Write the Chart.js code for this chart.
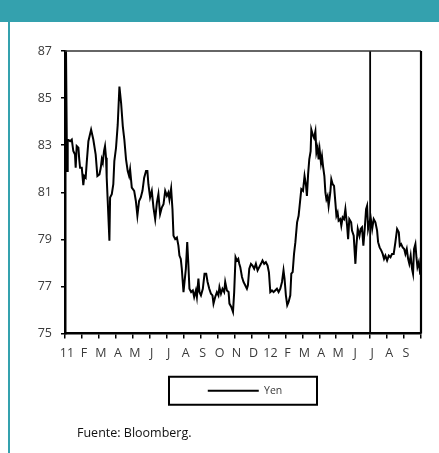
<!DOCTYPE html>
<html>
<head>
<meta charset="utf-8">
<script src="https://cdn.jsdelivr.net/npm/chart.js@4.4.0/dist/chart.umd.min.js"></script>
<style>
  html, body { margin: 0; padding: 0; background: #fff; }
  body { width: 439px; height: 453px; position: relative; overflow: hidden; }
  #band { position: absolute; left: 0; top: 0; width: 439px; height: 22px; background: #34a1ae; }
  #rule { position: absolute; left: 8px; top: 22px; width: 2px; height: 431px; background: #34a1ae; }
  #wrap { position: absolute; left: 0; top: 0; width: 439px; height: 453px; }
  #source { position: absolute; left: 77px; top: 424px; font-family: "Open Sans", sans-serif; font-size: 12.5px; color: #111; }
</style>
</head>
<body>
<div id="band"></div>
<div id="rule"></div>
<div id="wrap"><canvas id="c" width="439" height="453"></canvas></div>
<div id="source">Fuente: Bloomberg.</div>
<script>
// Month position: 0 = start of Jan 2011, 12 = start of Jan 2012
const monthPos = [
  0.00, 0.06, 0.12, 0.16, 0.30, 0.40, 0.49, 0.59, 0.63, 0.69, 0.79, 0.84, 0.89, 0.99,
  1.08, 1.14, 1.22, 1.28, 1.38, 1.54, 1.67, 1.81, 1.91, 2.03, 2.11, 2.17, 2.23, 2.30,
  2.36, 2.42, 2.46, 2.52, 2.62, 2.66, 2.76, 2.85, 2.91, 3.01, 3.11, 3.21, 3.31, 3.41,
  3.50, 3.60, 3.70, 3.78, 3.84, 3.94, 4.08, 4.18, 4.27, 4.37, 4.47, 4.57, 4.67, 4.78,
  4.86, 4.92, 5.02, 5.12, 5.22, 5.32, 5.42, 5.51, 5.61, 5.71, 5.81, 5.91, 6.01, 6.10,
  6.16, 6.26, 6.34, 6.40, 6.50, 6.60, 6.69, 6.75, 6.83, 6.89, 6.99, 7.05, 7.13, 7.21,
  7.28, 7.34, 7.44, 7.54, 7.62, 7.72, 7.78, 7.87, 7.93, 8.02, 8.13, 8.23, 8.33, 8.41,
  8.51, 8.61, 8.70, 8.76, 8.86, 8.96, 9.05, 9.11, 9.20, 9.29, 9.39, 9.45, 9.55, 9.65,
  9.70, 9.81, 9.91, 9.98, 10.06, 10.14, 10.22, 10.28, 10.34, 10.44, 10.53, 10.63, 10.73,
  10.79, 10.87, 10.97, 11.06, 11.16, 11.26, 11.36, 11.46, 11.56, 11.65, 11.75, 11.85,
  11.95, 12.03, 12.11, 12.21, 12.30, 12.40, 12.50, 12.60, 12.70, 12.80, 12.89, 12.95,
  13.03, 13.11, 13.19, 13.29, 13.35, 13.43, 13.51, 13.59, 13.69, 13.78, 13.84, 13.94,
  14.04, 14.13, 14.22, 14.27, 14.34, 14.41, 14.49, 14.53, 14.61, 14.69, 14.77, 14.83,
  14.90, 14.96, 15.02, 15.10, 15.16, 15.22, 15.30, 15.36, 15.42, 15.49, 15.55, 15.65,
  15.71, 15.79, 15.87, 15.95, 16.01, 16.08, 16.14, 16.24, 16.30, 16.38, 16.46, 16.54,
  16.64, 16.70, 16.77, 16.88, 16.93, 17.03, 17.13, 17.19, 17.27, 17.37, 17.44, 17.52,
  17.60, 17.68, 17.76, 17.82, 17.88, 17.96, 18.03, 18.12, 18.21, 18.31, 18.41, 18.47,
  18.56, 18.66, 18.74, 18.82, 18.90, 19.00, 19.10, 19.20, 19.29, 19.39, 19.49, 19.59,
  19.69, 19.75, 19.83, 19.92, 20.01, 20.08, 20.16, 20.24, 20.31, 20.39, 20.47, 20.53,
  20.59, 20.67, 20.73, 20.79, 20.87, 20.95, 20.99
];

// Yen per US dollar
const yenPerDollar = [
  82.0, 87.0, 81.9, 83.24, 83.17, 83.24, 82.75, 82.6, 82.04, 82.96, 82.89, 82.4, 82.04, 82.04,
  81.3, 81.69, 81.62, 82.25, 83.17, 83.66, 83.24, 82.6, 81.69, 81.76, 82.04, 82.4, 82.25, 82.75,
  82.96, 82.47, 81.62, 80.63, 78.94, 80.78, 80.92, 81.34, 82.32, 82.89, 83.87, 85.49, 84.79, 83.8,
  83.24, 82.4, 81.9, 81.69, 81.97, 81.2, 81.06, 80.63, 80.0, 80.63, 80.78, 81.06, 81.62, 81.9,
  81.9, 81.34, 80.78, 81.06, 80.35, 79.86, 80.56, 80.92, 80.07, 80.35, 80.49, 81.06, 80.85, 80.99,
  80.7, 81.16, 80.28, 79.15, 79.01, 79.08, 78.73, 78.31, 78.17, 77.75, 76.76, 77.19, 77.75, 78.88,
  77.89, 76.9, 76.76, 76.83, 76.55, 76.83, 76.55, 77.33, 76.76, 76.62, 76.9, 77.54, 77.54, 77.19,
  76.9, 76.69, 76.62, 76.27, 76.55, 76.76, 76.62, 76.97, 76.69, 76.9, 76.76, 77.19, 76.83, 76.76,
  76.27, 76.13, 75.92, 76.76, 78.24, 78.1, 78.17, 77.96, 77.82, 77.4, 77.19, 77.05, 76.9,
  77.05, 77.75, 77.96, 77.89, 77.75, 77.96, 77.68, 77.82, 77.96, 78.1, 77.96, 78.03,
  77.89, 77.6, 76.76, 76.83, 76.76, 76.83, 76.9, 76.76, 76.9, 77.19, 77.68, 77.33,
  76.62, 76.2, 76.34, 76.62, 77.54, 77.61, 78.38, 78.88, 79.72, 80.0, 80.42, 81.13,
  81.06, 81.69, 81.27, 80.84, 81.76, 82.4, 82.75, 83.66, 83.45, 83.31, 83.59, 82.68,
  82.89, 82.4, 82.82, 82.25, 82.53, 82.11, 81.69, 80.99, 80.7, 80.84, 80.42, 80.99,
  81.55, 81.34, 81.27, 80.56, 80.0, 80.14, 79.79, 79.86, 79.58, 79.93, 79.86, 80.28,
  79.58, 79.01, 79.86, 79.72, 79.37, 79.15, 77.96, 78.73, 79.44, 79.15, 79.44, 79.51,
  78.73, 79.44, 80.28, 80.42, 79.44, 79.72, 79.93, 79.44, 79.86, 79.72, 79.37, 78.88,
  78.66, 78.52, 78.38, 78.17, 78.31, 78.1, 78.31, 78.24, 78.38, 78.38, 78.88, 79.44,
  79.3, 78.73, 78.8, 78.66, 78.59, 78.38, 78.59, 78.17, 77.96, 78.31, 77.75, 77.54,
  78.59, 78.8, 78.24, 77.82, 78.03, 77.54, 77.68
];

const monthLabels = ['11','F','M','A','M','J','J','A','S','O','N','D',
                     '12','F','M','A','M','J','J','A','S'];
const markerMonth = 18;          // start of July 2012
const yRange = [75, 87];
const seriesName = 'Yen';

const FONT = '"Open Sans", sans-serif';

// Top and right edges of the plot frame, plus a border round the legend
const framePlugin = {
  id: 'frame',
  afterLayout(chart) {
    const a = chart.chartArea, lg = chart.legend;
    if (lg) { lg.left = a.left + 4; lg.right = a.right; }
  },
  afterDatasetsDraw(chart) {
    const {ctx, chartArea: a} = chart;
    ctx.save();
    ctx.strokeStyle = '#333';
    ctx.lineWidth = 1.7;
    ctx.beginPath();
    ctx.moveTo(a.left, a.top);
    ctx.lineTo(a.right, a.top);
    ctx.stroke();
    ctx.strokeStyle = '#000';
    ctx.lineWidth = 2.2;
    ctx.beginPath();
    ctx.moveTo(a.right, a.top);
    ctx.lineTo(a.right, a.bottom);
    ctx.stroke();
    ctx.restore();
  },
  afterDraw(chart) {
    const lg = chart.legend;
    if (!lg || !lg.legendHitBoxes || !lg.legendHitBoxes.length) return;
    const hb = lg.legendHitBoxes[0];
    const cx = hb.left + hb.width / 2 - 2;
    const cy = hb.top + hb.height / 2;
    const {ctx} = chart;
    ctx.save();
    ctx.strokeStyle = '#000';
    ctx.lineWidth = 2;
    ctx.strokeRect(cx - 74, cy - 14, 148, 28);
    ctx.restore();
  }
};

new Chart(document.getElementById('c'), {
  type: 'line',
  data: {
    datasets: [
      {
        label: seriesName,
        data: monthPos.map((m, i) => ({x: m, y: yenPerDollar[i]})),
        borderColor: '#000',
        backgroundColor: '#000',
        borderWidth: 2,
        pointRadius: 0,
        tension: 0,
        fill: false
      },
      {
        label: 'marker',
        data: [{x: markerMonth, y: yRange[0]}, {x: markerMonth, y: yRange[1]}],
        borderColor: '#000',
        borderWidth: 1.8,
        pointRadius: 0,
        fill: false
      }
    ]
  },
  options: {
    responsive: false,
    animation: false,
    events: [],
    layout: { padding: { left: 20, right: 18, top: 51, bottom: 47 } },
    scales: {
      x: {
        type: 'linear',
        min: 0,
        max: 21,
        afterFit(scale) { scale.height = 42; },
        border: { display: true, color: '#000', width: 2.5 },
        grid: { display: true, drawOnChartArea: false, drawTicks: true, tickLength: 5, color: '#000', lineWidth: 1.5 },
        ticks: {
          stepSize: 1,
          autoSkip: false,
          maxRotation: 0,
          padding: 7,
          labelOffset: 2,
          color: '#3a3a3a',
          font: { family: FONT, size: 12.5 },
          callback: (v) => monthLabels[v] ?? ''
        }
      },
      y: {
        min: yRange[0],
        max: yRange[1],
        afterFit(scale) { scale.width = 45; },
        border: { display: true, color: '#000', width: 2.5 },
        grid: { display: true, drawOnChartArea: false, drawTicks: true, tickLength: 4, color: '#000', lineWidth: 1.5 },
        ticks: {
          stepSize: 2,
          padding: 9,
          color: '#3a3a3a',
          font: { family: FONT, size: 12.5 }
        }
      }
    },
    plugins: {
      legend: {
        position: 'bottom',
        labels: {
          filter: (item) => item.text === seriesName,
          usePointStyle: true,
          pointStyle: 'line',
          pointStyleWidth: 51,
          boxHeight: 10,
          padding: 10,
          color: '#3a3a3a',
          font: { family: FONT, size: 10.5 }
        }
      },
      tooltip: { enabled: false }
    }
  },
  plugins: [framePlugin]
});
</script>
</body>
</html>
